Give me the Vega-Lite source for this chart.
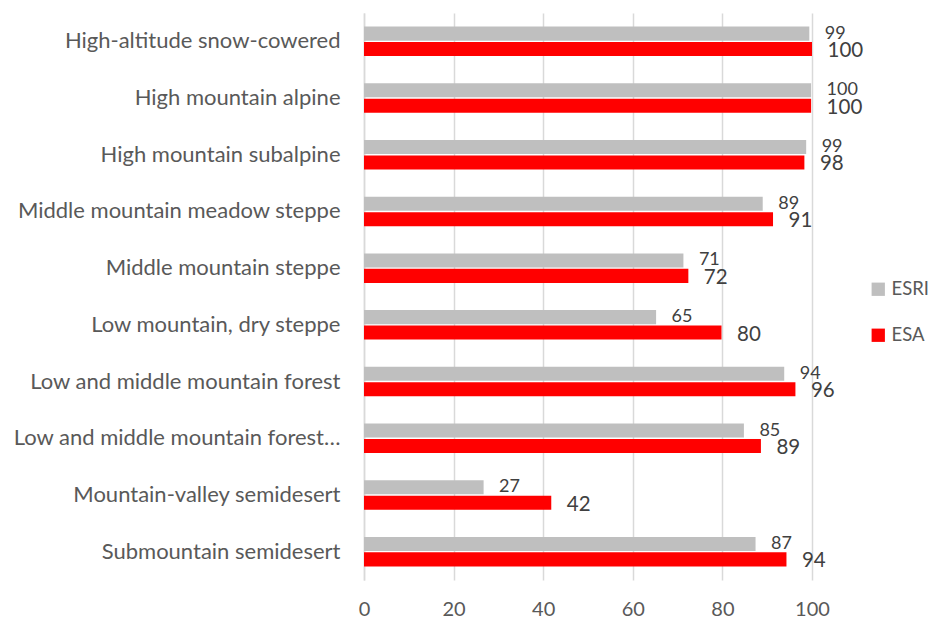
{
  "$schema": "https://vega.github.io/schema/vega-lite/v6.json",
  "width": 448,
  "height": 567,
  "autosize": {"type": "none"},
  "padding": {"left": 364, "top": 13, "right": 122, "bottom": 38},
  "background": "white",
  "config": {
    "font": "Lato",
    "view": {"stroke": null}
  },
  "data": {
    "values": [
      {"zone": "High-altitude snow-cowered", "source": "ESRI", "value": 99.4},
      {"zone": "High-altitude snow-cowered", "source": "ESA", "value": 100},
      {"zone": "High mountain alpine", "source": "ESRI", "value": 99.8},
      {"zone": "High mountain alpine", "source": "ESA", "value": 99.8},
      {"zone": "High mountain subalpine", "source": "ESRI", "value": 98.7},
      {"zone": "High mountain subalpine", "source": "ESA", "value": 98.3},
      {"zone": "Middle mountain meadow steppe", "source": "ESRI", "value": 89.0},
      {"zone": "Middle mountain meadow steppe", "source": "ESA", "value": 91.3},
      {"zone": "Middle mountain steppe", "source": "ESRI", "value": 71.3},
      {"zone": "Middle mountain steppe", "source": "ESA", "value": 72.4},
      {"zone": "Low mountain, dry steppe", "source": "ESRI", "value": 65.2},
      {"zone": "Low mountain, dry steppe", "source": "ESA", "value": 79.8},
      {"zone": "Low and middle mountain forest", "source": "ESRI", "value": 93.8},
      {"zone": "Low and middle mountain forest", "source": "ESA", "value": 96.3},
      {"zone": "Low and middle mountain forest…", "source": "ESRI", "value": 84.8},
      {"zone": "Low and middle mountain forest…", "source": "ESA", "value": 88.6},
      {"zone": "Mountain-valley semidesert", "source": "ESRI", "value": 26.7},
      {"zone": "Mountain-valley semidesert", "source": "ESA", "value": 41.8},
      {"zone": "Submountain semidesert", "source": "ESRI", "value": 87.4},
      {"zone": "Submountain semidesert", "source": "ESA", "value": 94.3}
    ]
  },
  "encoding": {
    "y": {
      "field": "zone",
      "type": "nominal",
      "sort": null,
      "scale": {"paddingInner": 0.48, "paddingOuter": 0.24},
      "axis": {
        "title": null,
        "ticks": false,
        "domain": true,
        "domainColor": "#d9d9d9",
        "domainWidth": 1.5,
        "labelFontSize": 22,
        "labelColor": "#595959",
        "labelPadding": 24,
        "labelLimit": 400
      }
    },
    "yOffset": {
      "field": "source",
      "type": "nominal",
      "scale": {"domain": ["ESRI", "ESA"], "paddingInner": 0.09, "paddingOuter": 0}
    }
  },
  "layer": [
    {
      "mark": {"type": "bar"},
      "encoding": {
        "x": {
          "field": "value",
          "type": "quantitative",
          "scale": {"domain": [0, 100], "nice": false},
          "axis": {
            "title": null,
            "values": [0, 20, 40, 60, 80, 100],
            "domain": false,
            "ticks": false,
            "grid": true,
            "gridColor": "#d9d9d9",
            "gridWidth": 1.5,
            "labelFontSize": 20,
            "labelColor": "#595959",
            "labelPadding": 19,
            "labelFlush": false
          }
        },
        "color": {
          "field": "source",
          "type": "nominal",
          "scale": {"domain": ["ESRI", "ESA"], "range": ["#bfbfbf", "#ff0000"]},
          "legend": {
            "title": null,
            "orient": "none",
            "legendX": 505,
            "legendY": 267,
            "padding": 0,
            "symbolType": "square",
            "symbolSize": 177,
            "symbolStrokeWidth": 0,
            "labelFontSize": 18.5,
            "labelColor": "#595959",
            "labelOffset": 4,
            "labelLimit": 100,
            "rowPadding": 27
          }
        }
      }
    },
    {
      "transform": [{"filter": "datum.source === 'ESRI'"}],
      "mark": {"type": "text", "align": "left", "baseline": "middle", "dx": 15.5, "dy": 0, "fontSize": 18, "color": "#404040"},
      "encoding": {
        "x": {"field": "value", "type": "quantitative"},
        "text": {"field": "value", "type": "quantitative", "format": ".0f"}
      }
    },
    {
      "transform": [{"filter": "datum.source === 'ESA'"}],
      "mark": {"type": "text", "align": "left", "baseline": "middle", "dx": 15.5, "dy": 2, "fontSize": 20.5, "color": "#404040"},
      "encoding": {
        "x": {"field": "value", "type": "quantitative"},
        "text": {"field": "value", "type": "quantitative", "format": ".0f"}
      }
    }
  ]
}
